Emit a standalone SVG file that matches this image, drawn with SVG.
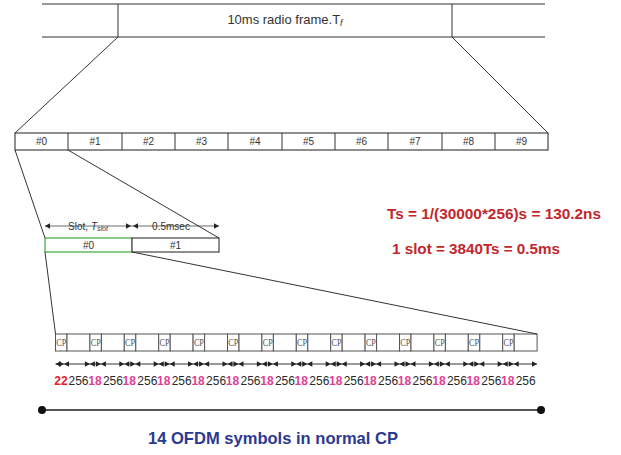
<svg xmlns="http://www.w3.org/2000/svg" xmlns:xlink="http://www.w3.org/1999/xlink" width="621" height="455" viewBox="0 0 621 455">
  <style>
    .ln { stroke: #333; stroke-width: 1; fill: none; }
    .box { stroke: #444; stroke-width: 1.2; fill: #fff; }
    .sym { stroke: #555; stroke-width: 1; fill: #fff; }
    .lbl { font-family: "Liberation Sans", Arial, sans-serif; fill: #333; text-anchor: middle; }
    .cp { font-family: "Liberation Serif", "Times New Roman", serif; font-size: 10px; fill: #555; text-anchor: middle; }
    .num { font-family: "Liberation Sans", Arial, sans-serif; font-size: 12px; text-anchor: middle; }
    .n256 { fill: #2a2a2a; }
    .n18 { fill: #de3f93; font-weight: bold; }
    .n22 { fill: #e8202a; font-weight: bold; }
    .red { font-family: "Liberation Sans", Arial, sans-serif; font-weight: bold; font-size: 15.5px; fill: #c1272d; }
    .ah { fill: #222; }
  </style>
  <defs>
    <!-- pair of arrowheads meeting tip to tip -->
    <path id="bt" d="M0,0 L-5,-2.7 L-5,2.7 Z M0,0 L5,-2.7 L5,2.7 Z"/>
    <path id="al" d="M0,0 L5,-2.7 L5,2.7 Z"/>
    <path id="ar" d="M0,0 L-5,-2.7 L-5,2.7 Z"/>
  </defs>
  <rect width="621" height="455" fill="#fff"/>

  <!-- radio frame -->
  <g id="frame">
    <line class="ln" x1="42" y1="4" x2="545" y2="4" stroke-width="1.3"/>
    <line class="ln" x1="42" y1="37" x2="545" y2="37" stroke-width="1.3"/>
    <line class="ln" x1="118" y1="4" x2="118" y2="37"/>
    <line class="ln" x1="452" y1="4" x2="452" y2="37"/>
    <text class="lbl" x="285" y="24" font-size="13">10ms radio frame.T<tspan font-size="9" font-style="italic" dy="2">f</tspan></text>
  </g>

  <!-- subframes #0..#9 -->
  <g id="subframes">
    <rect class="box" x="15" y="133" width="533" height="17"/>
    <line class="ln" x1="68" y1="133" x2="68" y2="150"/>
    <line class="ln" x1="122" y1="133" x2="122" y2="150"/>
    <line class="ln" x1="175" y1="133" x2="175" y2="150"/>
    <line class="ln" x1="228" y1="133" x2="228" y2="150"/>
    <line class="ln" x1="282" y1="133" x2="282" y2="150"/>
    <line class="ln" x1="335" y1="133" x2="335" y2="150"/>
    <line class="ln" x1="388" y1="133" x2="388" y2="150"/>
    <line class="ln" x1="442" y1="133" x2="442" y2="150"/>
    <line class="ln" x1="495" y1="133" x2="495" y2="150"/>
    <g font-size="10">
      <text class="lbl" x="41.5" y="145">#0</text>
      <text class="lbl" x="95" y="145">#1</text>
      <text class="lbl" x="148.5" y="145">#2</text>
      <text class="lbl" x="201.5" y="145">#3</text>
      <text class="lbl" x="255" y="145">#4</text>
      <text class="lbl" x="308.5" y="145">#5</text>
      <text class="lbl" x="361.5" y="145">#6</text>
      <text class="lbl" x="415" y="145">#7</text>
      <text class="lbl" x="468.5" y="145">#8</text>
      <text class="lbl" x="521.5" y="145">#9</text>
    </g>
  </g>

  <!-- slots within subframe -->
  <g id="slots">
    <rect x="45" y="238" width="87" height="14" fill="#fff" stroke="#4cae4c" stroke-width="1.3"/>
    <rect class="box" x="132" y="238" width="87" height="14"/>
    <text class="lbl" x="88.5" y="249" font-size="10">#0</text>
    <text class="lbl" x="175.5" y="249" font-size="10">#1</text>
  </g>

  <!-- slot duration dimension -->
  <g id="slot-dims">
    <line x1="45" y1="226" x2="219" y2="226" stroke="#444" stroke-width="0.8"/>
    <use href="#al" x="45" y="226" class="ah"/>
    <use href="#ar" x="131" y="226" class="ah"/>
    <use href="#al" x="133" y="226" class="ah"/>
    <use href="#ar" x="219" y="226" class="ah"/>
    <text class="lbl" x="88" y="229.5" font-size="10">Slot, <tspan font-style="italic">T</tspan><tspan font-style="italic" font-size="7" dy="1">slot</tspan></text>
    <text class="lbl" x="171" y="229.5" font-size="10">0.5msec</text>
  </g>

  <!-- OFDM symbols -->
  <g id="symbols">
    <rect class="sym" x="55.5" y="334" width="11.5" height="17"/><rect class="sym" x="67" y="334" width="22.9" height="17"/>
    <rect class="sym" x="89.9" y="334" width="11.5" height="17"/><rect class="sym" x="101.4" y="334" width="22.9" height="17"/>
    <rect class="sym" x="124.3" y="334" width="11.5" height="17"/><rect class="sym" x="135.8" y="334" width="22.9" height="17"/>
    <rect class="sym" x="158.7" y="334" width="11.5" height="17"/><rect class="sym" x="170.2" y="334" width="22.9" height="17"/>
    <rect class="sym" x="193.1" y="334" width="11.5" height="17"/><rect class="sym" x="204.6" y="334" width="22.9" height="17"/>
    <rect class="sym" x="227.5" y="334" width="11.5" height="17"/><rect class="sym" x="239" y="334" width="22.9" height="17"/>
    <rect class="sym" x="261.9" y="334" width="11.5" height="17"/><rect class="sym" x="273.4" y="334" width="22.9" height="17"/>
    <rect class="sym" x="296.3" y="334" width="11.5" height="17"/><rect class="sym" x="307.8" y="334" width="22.9" height="17"/>
    <rect class="sym" x="330.7" y="334" width="11.5" height="17"/><rect class="sym" x="342.2" y="334" width="22.9" height="17"/>
    <rect class="sym" x="365.1" y="334" width="11.5" height="17"/><rect class="sym" x="376.6" y="334" width="22.9" height="17"/>
    <rect class="sym" x="399.5" y="334" width="11.5" height="17"/><rect class="sym" x="411" y="334" width="22.9" height="17"/>
    <rect class="sym" x="433.9" y="334" width="11.5" height="17"/><rect class="sym" x="445.4" y="334" width="22.9" height="17"/>
    <rect class="sym" x="468.3" y="334" width="11.5" height="17"/><rect class="sym" x="479.8" y="334" width="22.9" height="17"/>
    <rect class="sym" x="502.7" y="334" width="11.5" height="17"/><rect class="sym" x="514.2" y="334" width="22.9" height="17"/>
    <g class="cp">
      <text x="61.3" y="345.5" textLength="10" lengthAdjust="spacingAndGlyphs">CP</text>
      <text x="95.7" y="345.5" textLength="10" lengthAdjust="spacingAndGlyphs">CP</text>
      <text x="130.1" y="345.5" textLength="10" lengthAdjust="spacingAndGlyphs">CP</text>
      <text x="164.5" y="345.5" textLength="10" lengthAdjust="spacingAndGlyphs">CP</text>
      <text x="198.9" y="345.5" textLength="10" lengthAdjust="spacingAndGlyphs">CP</text>
      <text x="233.3" y="345.5" textLength="10" lengthAdjust="spacingAndGlyphs">CP</text>
      <text x="267.7" y="345.5" textLength="10" lengthAdjust="spacingAndGlyphs">CP</text>
      <text x="302.1" y="345.5" textLength="10" lengthAdjust="spacingAndGlyphs">CP</text>
      <text x="336.5" y="345.5" textLength="10" lengthAdjust="spacingAndGlyphs">CP</text>
      <text x="370.9" y="345.5" textLength="10" lengthAdjust="spacingAndGlyphs">CP</text>
      <text x="405.3" y="345.5" textLength="10" lengthAdjust="spacingAndGlyphs">CP</text>
      <text x="439.7" y="345.5" textLength="10" lengthAdjust="spacingAndGlyphs">CP</text>
      <text x="474.1" y="345.5" textLength="10" lengthAdjust="spacingAndGlyphs">CP</text>
      <text x="508.5" y="345.5" textLength="10" lengthAdjust="spacingAndGlyphs">CP</text>
    </g>
  </g>

  <!-- sample-count dimension line -->
  <g id="sample-dims" class="ah">
    <line x1="55.5" y1="364" x2="537" y2="364" stroke="#333" stroke-width="1"/>
    <use href="#al" x="55.5" y="364"/>
    <use href="#bt" x="64" y="364"/>
    <use href="#bt" x="89.9" y="364"/><use href="#bt" x="100.9" y="364"/>
    <use href="#bt" x="124.3" y="364"/><use href="#bt" x="135.3" y="364"/>
    <use href="#bt" x="158.7" y="364"/><use href="#bt" x="169.7" y="364"/>
    <use href="#bt" x="193.1" y="364"/><use href="#bt" x="204.1" y="364"/>
    <use href="#bt" x="227.5" y="364"/><use href="#bt" x="238.5" y="364"/>
    <use href="#bt" x="261.9" y="364"/><use href="#bt" x="272.9" y="364"/>
    <use href="#bt" x="296.3" y="364"/><use href="#bt" x="307.3" y="364"/>
    <use href="#bt" x="330.7" y="364"/><use href="#bt" x="341.7" y="364"/>
    <use href="#bt" x="365.1" y="364"/><use href="#bt" x="376.1" y="364"/>
    <use href="#bt" x="399.5" y="364"/><use href="#bt" x="410.5" y="364"/>
    <use href="#bt" x="433.9" y="364"/><use href="#bt" x="444.9" y="364"/>
    <use href="#bt" x="468.3" y="364"/><use href="#bt" x="479.3" y="364"/>
    <use href="#bt" x="502.7" y="364"/><use href="#bt" x="513.7" y="364"/>
    <use href="#ar" x="537" y="364"/>
  </g>

  <g id="sample-counts" class="num">
    <text class="n22" x="61" y="385">22</text>
    <text class="n256" x="78.5" y="385">256</text>
    <text class="n18" x="94.9" y="385">18</text><text class="n256" x="112.9" y="385">256</text>
    <text class="n18" x="129.3" y="385">18</text><text class="n256" x="147.3" y="385">256</text>
    <text class="n18" x="163.7" y="385">18</text><text class="n256" x="181.7" y="385">256</text>
    <text class="n18" x="198.1" y="385">18</text><text class="n256" x="216.1" y="385">256</text>
    <text class="n18" x="232.5" y="385">18</text><text class="n256" x="250.5" y="385">256</text>
    <text class="n18" x="266.9" y="385">18</text><text class="n256" x="284.9" y="385">256</text>
    <text class="n18" x="301.3" y="385">18</text><text class="n256" x="319.3" y="385">256</text>
    <text class="n18" x="335.7" y="385">18</text><text class="n256" x="353.7" y="385">256</text>
    <text class="n18" x="370.1" y="385">18</text><text class="n256" x="388.1" y="385">256</text>
    <text class="n18" x="404.5" y="385">18</text><text class="n256" x="422.5" y="385">256</text>
    <text class="n18" x="438.9" y="385">18</text><text class="n256" x="456.9" y="385">256</text>
    <text class="n18" x="473.3" y="385">18</text><text class="n256" x="491.3" y="385">256</text>
    <text class="n18" x="507.7" y="385">18</text><text class="n256" x="525.7" y="385">256</text>
  </g>

  <!-- zoom-in connectors between levels -->
  <g id="connectors" class="ln">
    <line x1="118" y1="37" x2="15" y2="133"/>
    <line x1="452" y1="37" x2="548" y2="133"/>
    <line x1="15" y1="150" x2="45" y2="238"/>
    <line x1="68" y1="150" x2="219" y2="238"/>
    <line x1="45" y1="252" x2="55.5" y2="334"/>
    <line x1="132" y1="252" x2="537" y2="334"/>
  </g>

  <!-- timing notes -->
  <g id="notes">
    <text class="red" x="387" y="219" textLength="214" lengthAdjust="spacingAndGlyphs">Ts = 1/(30000*256)s = 130.2ns</text>
    <text class="red" x="392" y="254" textLength="168" lengthAdjust="spacingAndGlyphs">1 slot = 3840Ts = 0.5ms</text>
  </g>

  <!-- span of one slot -->
  <g id="slot-span">
    <line x1="42" y1="410" x2="541" y2="410" stroke="#555" stroke-width="2"/>
    <circle cx="42" cy="410" r="4" fill="#111"/>
    <circle cx="541" cy="410" r="4" fill="#111"/>
    <text x="273" y="444" text-anchor="middle" font-family="Liberation Sans, Arial, sans-serif" font-weight="bold" font-size="17" fill="#2b3990" textLength="250" lengthAdjust="spacingAndGlyphs">14 OFDM symbols in normal CP</text>
  </g>
</svg>
